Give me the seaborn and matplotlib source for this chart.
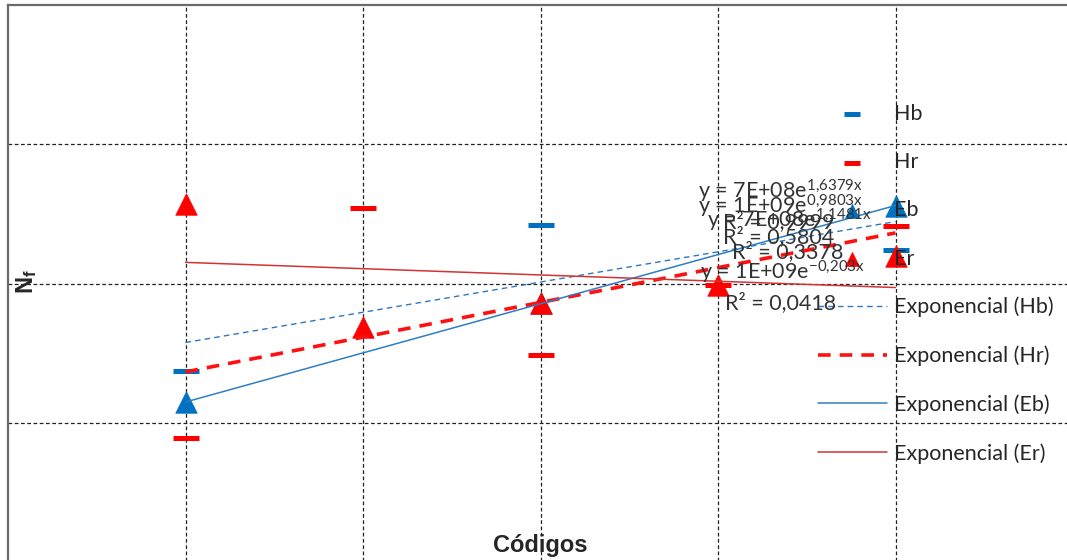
import numpy as np
import pandas as pd
import matplotlib
matplotlib.use('Agg')
import matplotlib.pyplot as plt
import seaborn as sns

# datos (escala log, Nf)
codigos = [1, 2, 3, 4, 5]
Hb = [5.5e6, np.nan, 7.0e8, np.nan, 3.0e8]
Hr = [6.0e5, 1.23e9, 9.3e6, 9.4e7, 6.8e8]
Eb = [1.97e6, np.nan, 5.2e7, np.nan, 1.31e9]
Er = [1.4e9, 2.4e7, 5.2e7, 9.4e7, 2.5e8]

series = ['Hb', 'Hr', 'Eb', 'Er']
ecuaciones = [r'y = 7E+08e$^{\mathregular{1{,}6379x}}$', r'y = 1E+09e$^{\mathregular{0{,}9803x}}$',
              r'y = 7E+08e$^{\mathregular{1{,}1481x}}$', r'y = 1E+09e$^{\mathregular{-0{,}203x}}$']
r2 = ['R² = 0,9999', 'R² = 0,5804', 'R² = 0,3378', 'R² = 0,0418']

df = pd.DataFrame({'Codigo': codigos, 'Hb': Hb, 'Hr': Hr, 'Eb': Eb, 'Er': Er})

sns.set_style('white')
plt.rcParams['font.family'] = ['Lato', 'DejaVu Sans']
plt.rcParams['mathtext.fontset'] = 'custom'
plt.rcParams['mathtext.rm'] = 'Lato'
plt.rcParams['mathtext.it'] = 'Lato'
plt.rcParams['mathtext.bf'] = 'Liberation Sans:bold'

W, H = 1067, 560
fig = plt.figure(figsize=(W / 100, H / 100), dpi=100)
ax = fig.add_axes([8 / W, -2 / H, 1065 / W, 557 / H])

azul = '#0070C0'
rojo = '#FF0000'

# marcadores
sns.scatterplot(data=df, x='Codigo', y='Hb', marker='_', s=26 ** 2 * 0.52, linewidth=3.6,
                color=azul, label='Hb', ax=ax, zorder=3)
sns.scatterplot(data=df, x='Codigo', y='Hr', marker='_', s=26 ** 2 * 0.52, linewidth=3.6,
                color=rojo, label='Hr', ax=ax, zorder=3)
sns.scatterplot(data=df, x='Codigo', y='Eb', marker='^', s=240, linewidth=0.5,
                color=azul, edgecolor=azul, label='Eb', ax=ax, zorder=3)
sns.scatterplot(data=df, x='Codigo', y='Er', marker='^', s=240, linewidth=0.5,
                color=rojo, edgecolor=rojo, label='Er', ax=ax, zorder=3)

# lineas de tendencia exponencial (ajuste en log)
estilos = {'Hb': dict(color='#2E78BE', lw=1.0, ls=(0, (4, 3))),
           'Hr': dict(color='#FF1010', lw=2.6, ls=(0, (3.5, 2.5))),
           'Eb': dict(color='#2E7EC4', lw=1.1, ls='-'),
           'Er': dict(color='#D03434', lw=1.1, ls='-')}
for s in series:
    d = df[['Codigo', s]].dropna()
    b, a = np.polyfit(d['Codigo'], np.log(d[s]), 1)
    xs = np.array([d['Codigo'].min(), d['Codigo'].max()])
    tend = pd.DataFrame({'x': xs, 'y': np.exp(a + b * xs)})
    sns.lineplot(data=tend, x='x', y='y', ax=ax, label='Exponencial (' + s + ')',
                 zorder=4, **estilos[s])

ax.set_yscale('log')
ax.set_xlim(0, 6)
ax.set_ylim(1e4, 1e12)
ax.set_xticks(codigos)
ax.set_yticks([1e6, 1e8, 1e10])
ax.yaxis.set_minor_locator(matplotlib.ticker.NullLocator())
ax.set_xticklabels([])
ax.set_yticklabels([])
ax.tick_params(length=0)
ax.set_xlabel('')
ax.set_ylabel('')
ax.grid(True, ls=(0, (3, 2)), color='#222222', lw=0.9)
ax.set_axisbelow(True)
for k in ['left', 'top']:
    ax.spines[k].set_color('#6a6a6a')
    ax.spines[k].set_linewidth(1.6)

leg = ax.legend(loc='upper left', bbox_to_anchor=(818 / W, 1 - 104 / H),
                bbox_transform=fig.transFigure, frameon=False, fontsize=15.5,
                handlelength=3.2, handletextpad=0.35, labelspacing=1.31,
                borderpad=0, borderaxespad=0, markerscale=0.65)
for t in leg.get_texts():
    t.set_color('#262626')

# etiquetas de las ecuaciones
pos = [(698, 198), (698, 213), (707, 228), (700, 279)]
for (px, py), e, r in zip(pos, ecuaciones, r2):
    fig.text(px / W, 1 - py / H, e, fontsize=15.5, color='#333333', va='baseline', zorder=6)
    fig.text((px + 25) / W, 1 - (py + 30) / H, r, fontsize=15.5, color='#333333',
             va='baseline', zorder=6)

fig.text(540 / W, 1 - 552 / H, 'Códigos', family='Liberation Sans', fontweight='bold',
         fontsize=17, ha='center', va='baseline')
fig.text(27 / W, 1 - 282 / H, r'N$_\mathbf{f}$', family='Liberation Sans', fontweight='bold',
         fontsize=17, rotation=90, ha='center', va='center')

plt.savefig('out.png', dpi=100)
